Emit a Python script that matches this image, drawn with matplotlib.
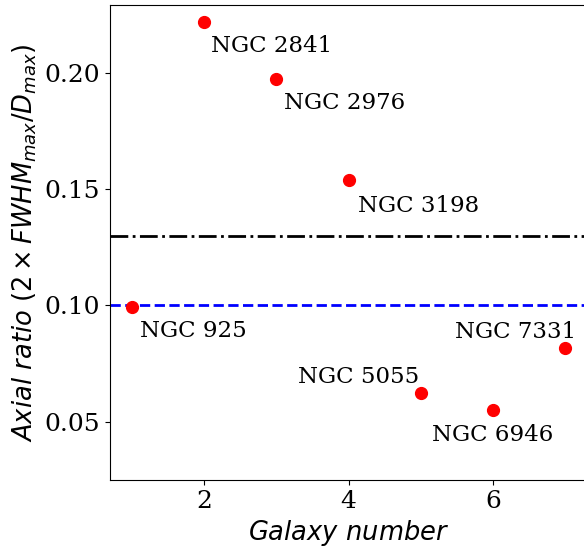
import matplotlib
matplotlib.use("Agg")
import matplotlib.pyplot as plt

galaxy_number = [1, 2, 3, 4, 5, 6, 7]
axial_ratio = [0.0995, 0.2215, 0.1972, 0.1538, 0.0622, 0.0550, 0.0816]
names = ["NGC 925", "NGC 2841", "NGC 2976", "NGC 3198", "NGC 5055", "NGC 6946", "NGC 7331"]
ratio_cut_1 = 0.13
ratio_cut_2 = 0.10

# label placement: (dx, dy in pixels, ha)
label_pos = [(8, -30, 'left'), (7, -30, 'left'), (8, -30, 'left'), (9, -32, 'left'),
             (-2, 10, 'right'), (0, -31, 'center'), (11, 10, 'right')]

plt.rcParams['font.family'] = 'serif'
plt.rcParams['mathtext.fontset'] = 'dejavusans'

fig = plt.figure(figsize=(5.84, 5.47), dpi=100)
ax = fig.add_axes([110/584, 67/547, 477/584, 475/547])

ax.axhline(ratio_cut_1, color='k', ls='-.', lw=2)
ax.axhline(ratio_cut_2, color='b', ls='--', lw=2)
ax.plot(galaxy_number, axial_ratio, 'o', color='r', ms=8.5, ls='none')

for x, y, n, (dx, dy, ha) in zip(galaxy_number, axial_ratio, names, label_pos):
	ax.annotate(n, (x, y), xytext=(dx, dy), textcoords='offset pixels',
		ha=ha, va='baseline', fontsize=16.5)

ax.set_xlim(0.7, 7.3)
ax.set_ylim(0.025, 0.229)
ax.set_xticks([2, 4, 6])
ax.set_yticks([0.05, 0.10, 0.15, 0.20])
ax.tick_params(axis='both', which='major', labelsize=18)

ax.set_xlabel(r'$Galaxy\ number$', fontsize=18.5)
ax.set_ylabel(r'$Axial\ ratio\ (2 \times FWHM_{max}/D_{max})$', fontsize=18.5)

fig.savefig("out.png", dpi=100)
plt.close("all")
